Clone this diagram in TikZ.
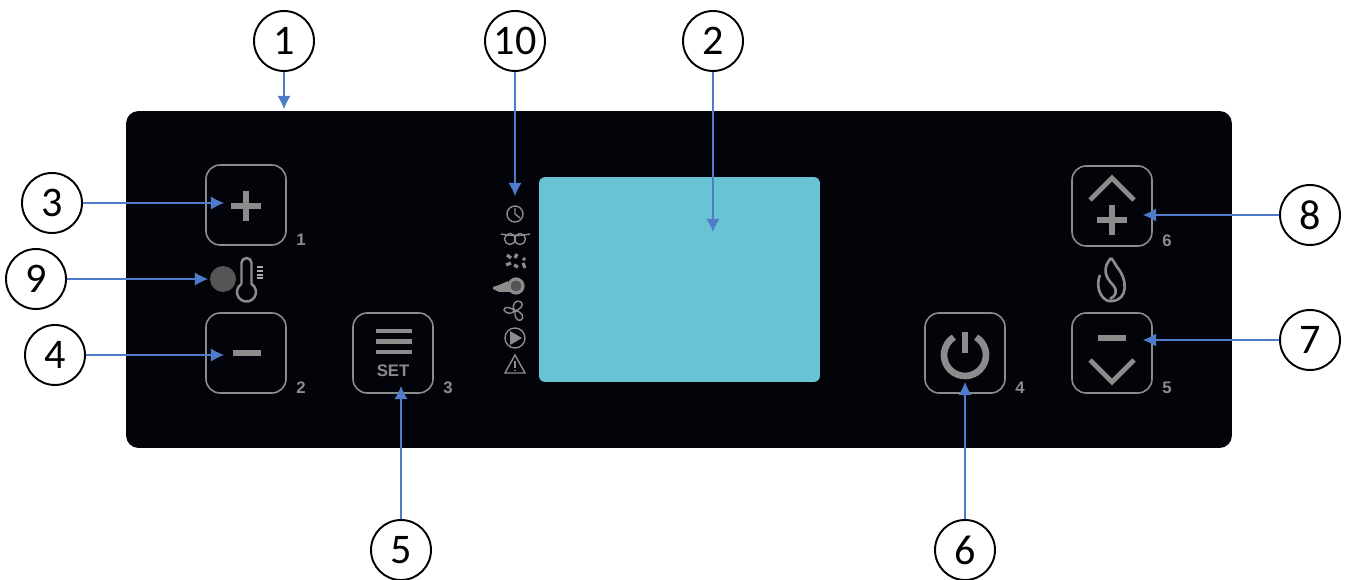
\documentclass[tikz,border=0pt]{standalone}
\usepackage{fontspec}
\usetikzlibrary{arrows.meta}
\setmainfont{Carlito}
\newfontfamily\panelfont{Liberation Sans}
\definecolor{panelblack}{HTML}{03030A}
\definecolor{screenblue}{HTML}{68C3D4}
\definecolor{keygray}{HTML}{8C8C8C}
\definecolor{dotgray}{HTML}{555555}
\definecolor{leadblue}{HTML}{4F7BCB}

\begin{document}
\begin{tikzpicture}[> = latex, x = 0.02 cm, y = -0.02 cm,
	callout/.style = {draw, circle, line width = 1.1 pt, minimum size = 1.2 cm, inner sep = 0, font = \fontsize{24}{24}\selectfont},
	key/.style = {draw = keygray, rounded corners = 8 pt, line width = 0.9 pt, minimum size = 1.6 cm, inner sep = 0},
	keynum/.style = {text = keygray, inner sep = 0, font = \panelfont\bfseries\fontsize{9.5}{9.5}\selectfont},
	glyph/.style = {draw = keygray, line width = 2.8 pt},
	thick glyph/.style = {draw = keygray, line width = 3.8 pt},
	tiny glyph/.style = {draw = keygray, line width = 0.8 pt},
	lead/.style = {-{Latex[length=7.5pt, width=7.5pt]}, leadblue, line width = 0.6 pt}]

	\useasboundingbox (0, 0) rectangle (1352, 580);

	% Panel + display

	\node [fill = panelblack, rounded corners = 7 pt, minimum width = 22.12 cm, minimum height = 6.74 cm, inner sep = 0] (panel) at (679, 279.5) {};
	\node [fill = screenblue, rounded corners = 3.5 pt, minimum width = 5.62 cm, minimum height = 4.1 cm, inner sep = 0] (screen) at (679.5, 279.5) {};

	% Keys + their numbers

	\foreach \name/\x/\y/\num in {plus/246/205/1, minus/246/353/2, set/393/353/3, power/965/353/4, down/1112/353/5, up/1112/206/6}
	{
		\node [key] (\name) at (\x, \y) {};
		\node [keynum] (num\num) at (\x + 55, \y + 35) {\num};
	}

	% Key symbols

	\draw [thick glyph] (231, 206) -- (261, 206) (246, 191) -- (246, 221);
	\draw [thick glyph] (233, 353) -- (261, 353);
	\draw [glyph] (376, 331) -- (412, 331) (376, 341.5) -- (412, 341.5) (376, 352) -- (412, 352);
	\node [text = keygray, inner sep = 0, font = \panelfont\bfseries\fontsize{9.5}{9.5}\selectfont] (settext) at (393, 371) {SET};
	\draw [thick glyph] (965, 332) -- (965, 353);
	\draw [thick glyph] (965, 355) ++ (-58 : 21) arc (-58 : 238 : 21);
	\draw [glyph] (1090, 200) -- (1112, 178) -- (1134, 200);
	\draw [thick glyph] (1097, 220) -- (1127, 220) (1112, 205) -- (1112, 235);
	\draw [thick glyph] (1098, 338) -- (1126, 338);
	\draw [glyph] (1090, 360) -- (1112, 382) -- (1134, 360);

	% Burner dot + thermometer

	\node [circle, fill = dotgray, minimum size = 0.52 cm, inner sep = 0] (dot) at (223, 279) {};
	\draw [keygray, line width = 1.4 pt] (241.5, 284) -- (241.5, 263) arc (180 : 360 : 5) -- (251.5, 284) arc (-58 : 238 : 9.5);
	\draw [keygray!70, line width = 0.6 pt] (257, 267) -- (263, 267) (257, 271) -- (263, 271) (257, 275) -- (263, 275) (257, 278) -- (263, 278);

	% Flame

	\draw [keygray, line width = 1.5 pt] (1100, 275) .. controls (1094, 290) and (1104, 303) .. (1112, 301) .. controls (1128, 300) and (1128, 280) .. (1117, 267) .. controls (1114, 262) and (1113, 260) .. (1111, 258);
	\draw [keygray, line width = 1.5 pt] (1111, 258) .. controls (1102, 268) and (1105, 277) .. (1113, 285) .. controls (1118, 291) and (1116, 296) .. (1110, 299);

	% Status icons, top to bottom

	\draw [tiny glyph] (515, 214) circle [radius = 8];
	\draw [tiny glyph] (515, 208) -- (515, 214) -- (520, 218);
	\draw [tiny glyph] (501, 234) .. controls (510, 236) and (520, 236) .. (530, 234);
	\draw [tiny glyph] (510, 239) circle [radius = 5.5] (520, 239) circle [radius = 5.5];
	\draw [keygray, line width = 1.8 pt] (507, 255) -- (511, 258) (517, 254) -- (515, 258) (523, 258) -- (525, 260) (506, 265) -- (511, 263) (514, 265) -- (518, 267) (523, 263) -- (525, 268);
	\draw [keygray, line width = 1.8 pt, fill = keygray!60!black] (516, 286) circle [radius = 7];
	\fill [keygray] (508, 281) -- (499, 285) -- (493, 287) -- (493, 289) -- (499, 292) -- (510, 292) -- cycle;
	\draw [tiny glyph] (515, 311) .. controls (510, 304) and (517, 299) .. (521, 302) .. controls (525, 305) and (519, 310) .. (515, 311) .. controls (522, 311) and (525, 318) .. (521, 320) .. controls (517, 322) and (514, 316) .. (515, 311) .. controls (511, 315) and (505, 313) .. (504, 310) .. controls (504, 306) and (511, 307) .. (515, 311);
	\draw [tiny glyph] (515, 338) circle [radius = 10];
	\fill [keygray] (510, 331) -- (522, 338) -- (510, 345) -- cycle;
	\draw [tiny glyph] (515, 355) -- (525, 373) -- (505, 373) -- cycle;
	\draw [tiny glyph] (515, 361) -- (515, 368) (515, 370) -- (515, 371.5);

	% Numbered callouts

	\foreach \name/\x/\y/\txt in {cone/284/41/1, ctwo/713/41/2, cthree/52/203/3, cfour/55/355/4, cfive/401/550/5, csix/965/550/6, cseven/1310/340/7, ceight/1310/215/8, cnine/36/279/9, cten/515/41/10}
		\node [callout] (\name) at (\x, \y) {\txt};

	% Leader ends

	\coordinate (tone) at (284, 109);
	\coordinate (ttwo) at (713, 232);
	\coordinate (tthree) at (224, 203);
	\coordinate (tfour) at (224, 355);
	\coordinate (tfive) at (401, 386);
	\coordinate (tsix) at (965, 382);
	\coordinate (tseven) at (1143, 340);
	\coordinate (teight) at (1143, 215);
	\coordinate (tnine) at (208, 279);
	\coordinate (tten) at (515, 196);

	% Leaders

	\foreach \from/\to in {cone/tone, ctwo/ttwo, cthree/tthree, cfour/tfour, cfive/tfive, csix/tsix, cseven/tseven, ceight/teight, cnine/tnine, cten/tten}
		\draw [lead] (\from) -- (\to);

\end{tikzpicture}
\end{document}
